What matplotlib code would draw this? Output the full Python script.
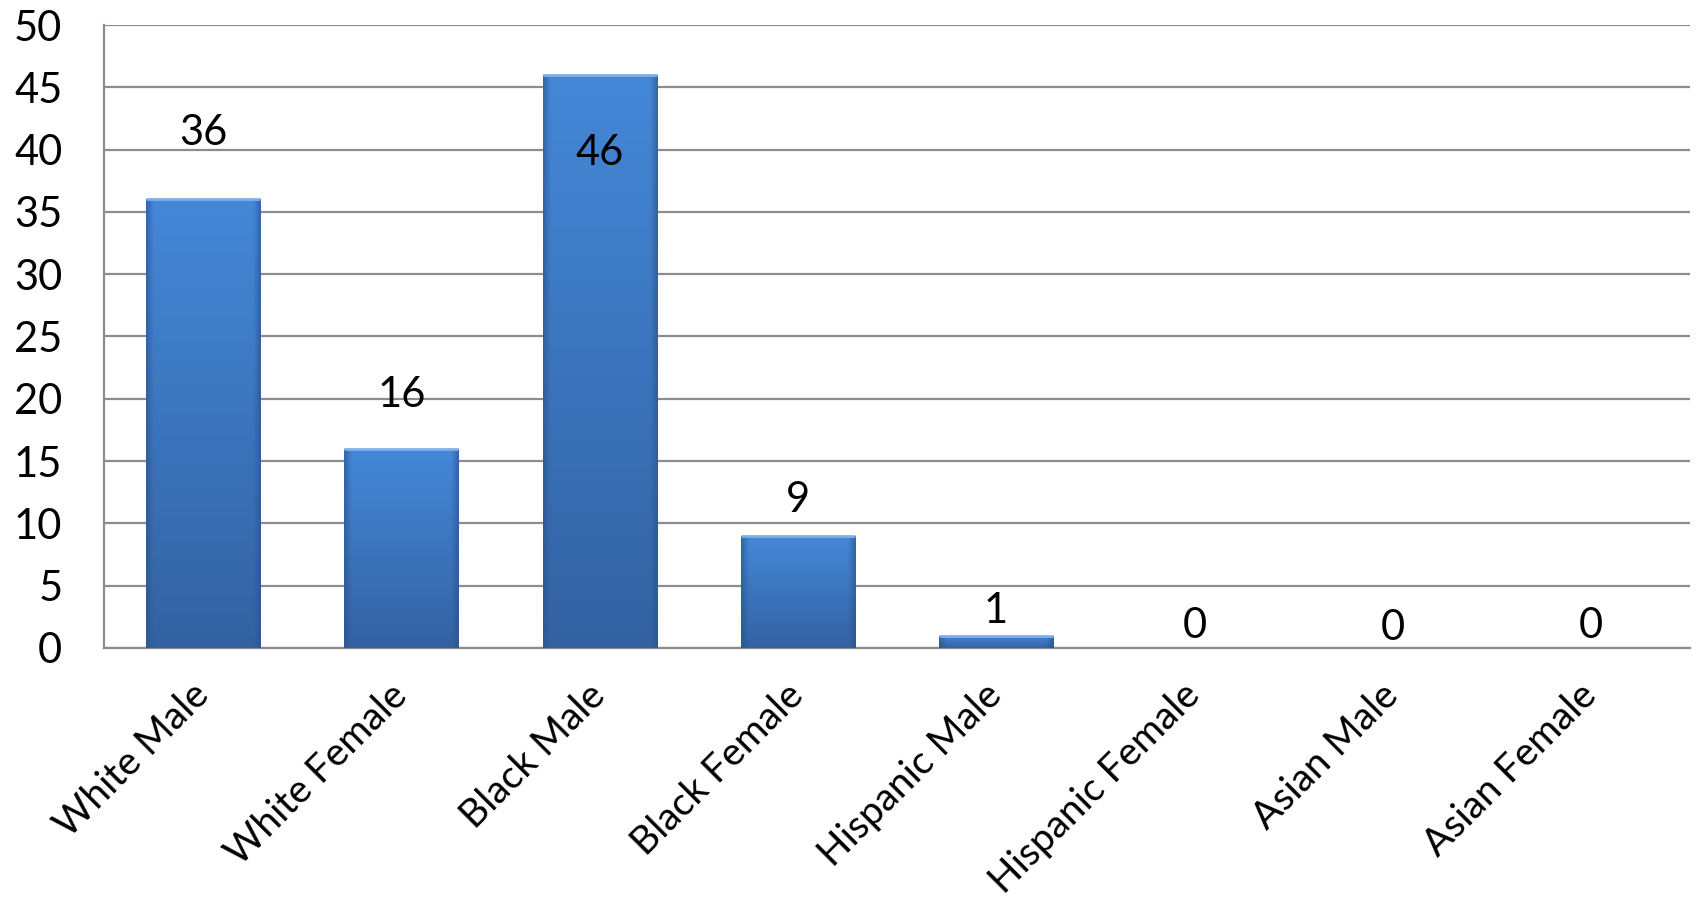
import numpy as np
import matplotlib
matplotlib.use("Agg")
import matplotlib.pyplot as plt

categories = ["White Male", "White Female", "Black Male", "Black Female",
              "Hispanic Male", "Hispanic Female", "Asian Male", "Asian Female"]
values = [36, 16, 46, 9, 1, 0, 0, 0]
label_offsets = [5.3, 4.3, -6.3, 2.9, 2.0, 1.8, 1.6, 1.8]
yticks = [0, 5, 10, 15, 20, 25, 30, 35, 40, 45, 50]

plt.rcParams['font.family'] = ['Lato', 'DejaVu Sans']

fig = plt.figure(figsize=(16.96, 9.07), dpi=100)
ax = fig.add_axes([0.0613, 0.2856, 0.9352, 0.6868])

x = np.arange(len(categories))
width = 0.575
bars = ax.bar(x, values, width=width, color="#3a73bd", edgecolor="none", zorder=3)

# gradient fill clipped to each bar
ny, nx = 200, 60
vert = np.linspace(0, 1, ny)[:, None]
hx = np.linspace(-1, 1, nx)[None, :]
edge = np.clip((np.abs(hx) - 0.88) / 0.12, 0, 1)
top_col = np.array([0x44, 0x88, 0xd8]) / 255
bot_col = np.array([0x33, 0x62, 0xa2]) / 255
edge_col = np.array([0x2a, 0x52, 0x8c]) / 255
img = (1 - vert)[..., None] * bot_col + vert[..., None] * top_col
img = img * (1 - edge[..., None] * 0.6) + edge_col * edge[..., None] * 0.6
img = img[::-1]
for b, v in zip(bars, values):
    if v <= 0:
        continue
    x0 = b.get_x()
    im = ax.imshow(img, extent=[x0, x0 + width, 0, v], aspect='auto',
                   zorder=4, interpolation='bilinear')
    im.set_clip_path(b)
    ax.plot([x0, x0 + width], [v, v], color="#7fb0e8", lw=2, zorder=5,
            solid_capstyle='butt')

for xi, v, off in zip(x, values, label_offsets):
    ax.text(xi, v + off, str(v), ha='center', va='center', fontsize=30,
            color='black', zorder=6)

ax.set_ylim(0, 50)
ax.set_xlim(-0.5, len(categories) - 0.5)
ax.set_yticks(yticks)
ax.set_yticklabels([str(t) for t in yticks], fontsize=30)
ax.yaxis.grid(True, color="#8c8c8c", linewidth=1.6, zorder=0)
ax.set_axisbelow(True)
ax.tick_params(axis='y', length=0, pad=30)
ax.tick_params(axis='x', length=0, pad=30)
ax.set_xticks(x)
ax.set_xticklabels(categories, rotation=45, ha='right', va='center',
                   rotation_mode='anchor', fontsize=28)
for s in ['top', 'right']:
    ax.spines[s].set_visible(False)
for s in ['left', 'bottom']:
    ax.spines[s].set_color("#8c8c8c")
    ax.spines[s].set_linewidth(1.6)

fig.savefig("out.png", dpi=100)
